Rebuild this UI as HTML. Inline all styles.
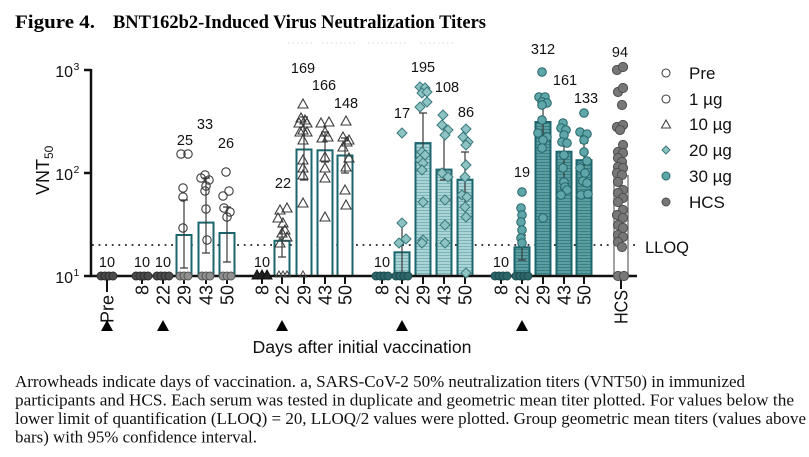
<!DOCTYPE html>
<html>
<head>
<meta charset="utf-8">
<style>
  html, body { margin:0; padding:0; background:#fff; }
  svg { display:block; }
  .sans { font-family: "Liberation Sans", Arial, sans-serif; }
  .serif { font-family: "Liberation Serif", "Times New Roman", serif; }
</style>
</head>
<body>
<svg width="809" height="457" viewBox="0 0 809 457" xmlns="http://www.w3.org/2000/svg">
  <defs>
    <pattern id="h20" width="4" height="3" patternUnits="userSpaceOnUse">
      <rect width="4" height="3" fill="#abd4d6"/>
      <rect width="4" height="1" fill="#7db4b8"/>
    </pattern>
    <pattern id="h30" width="4" height="3" patternUnits="userSpaceOnUse">
      <rect width="4" height="3" fill="#5b9fa3"/>
      <rect width="4" height="1" fill="#3b7f84"/>
    </pattern>
  </defs>
  <rect width="809" height="457" fill="#fff"/>

  <!-- Title -->
  <text class="serif" x="15" y="28" font-size="19" font-weight="bold" textLength="80" lengthAdjust="spacingAndGlyphs">Figure 4.</text>
  <text class="serif" x="113" y="28" font-size="19" font-weight="bold" textLength="373" lengthAdjust="spacingAndGlyphs">BNT162b2-Induced Virus Neutralization Titers</text>

  <!-- faint artifacts -->
  <g stroke="#e4e4e4" stroke-width="1.5" stroke-dasharray="1.5 3">
    <line x1="288" y1="43" x2="312" y2="43"/>
    <line x1="322" y1="43" x2="358" y2="43"/>
    <line x1="368" y1="43" x2="408" y2="43"/>
    <line x1="420" y1="43" x2="455" y2="43"/>
  </g>

  <!-- Y axis -->
  <g stroke="#111" stroke-width="2.5">
    <line x1="91" y1="69" x2="91" y2="277"/>
    <line x1="84" y1="70" x2="91" y2="70"/>
    <line x1="84" y1="173" x2="91" y2="173"/>
    <line x1="84" y1="276" x2="91" y2="276"/>
  </g>
  <g class="sans" fill="#111">
    <text x="73" y="77" font-size="16" text-anchor="end">10</text>
    <text x="73.5" y="70" font-size="10.5">3</text>
    <text x="73" y="180" font-size="16" text-anchor="end">10</text>
    <text x="73.5" y="173" font-size="10.5">2</text>
    <text x="73" y="283" font-size="16" text-anchor="end">10</text>
    <text x="73.5" y="276" font-size="10.5">1</text>
    <text transform="translate(49,195) rotate(-90)" font-size="18">VNT<tspan font-size="12" dy="4">50</tspan></text>
  </g>

  <!-- LLOQ dotted line -->
  <line x1="92" y1="245" x2="637" y2="245" stroke="#222" stroke-width="1.8" stroke-dasharray="1.8 4.8"/>
  <text class="sans" x="645" y="253" font-size="16.5" fill="#111">LLOQ</text>

  <!-- Bars -->
  <g stroke="#1b666e" stroke-width="2" fill="#fff">
    <rect x="176.5" y="235" width="15" height="41"/>
    <rect x="198.5" y="222.6" width="15" height="53.4"/>
    <rect x="219.5" y="233" width="15" height="43"/>
    <rect x="274.5" y="240.8" width="15" height="35.2"/>
    <rect x="296.5" y="149.5" width="15" height="126.5"/>
    <rect x="317.5" y="150.3" width="15" height="125.7"/>
    <rect x="337.5" y="155.5" width="15" height="120.5"/>
  </g>
  <g stroke="#1b666e" stroke-width="2" fill="url(#h20)">
    <rect x="394.5" y="252.3" width="15" height="23.7"/>
    <rect x="415.5" y="143.1" width="15" height="132.9"/>
    <rect x="436.5" y="169.6" width="15" height="106.4"/>
    <rect x="457.5" y="179.7" width="15" height="96.3"/>
  </g>
  <g stroke="#1b666e" stroke-width="2" fill="url(#h30)">
    <rect x="514.5" y="247.3" width="15" height="28.7"/>
    <rect x="535.5" y="122" width="15" height="154"/>
    <rect x="556.5" y="151.7" width="15" height="124.3"/>
    <rect x="576.5" y="160.2" width="15" height="115.8"/>
  </g>
  <rect x="614" y="175.8" width="14" height="100.2" fill="#fff" stroke="#8a8a8a" stroke-width="1.6"/>

  <!-- X axis -->
  <g stroke="#111" stroke-width="2.5">
    <line x1="90" y1="276" x2="637" y2="276"/>
  </g>
  <g stroke="#111" stroke-width="2">
    <line x1="107" y1="276" x2="107" y2="292"/>
    <line x1="142" y1="276" x2="142" y2="284"/>
    <line x1="163" y1="276" x2="163" y2="284"/>
    <line x1="184" y1="276" x2="184" y2="284"/>
    <line x1="206" y1="276" x2="206" y2="284"/>
    <line x1="227" y1="276" x2="227" y2="284"/>
    <line x1="262" y1="276" x2="262" y2="284"/>
    <line x1="282" y1="276" x2="282" y2="284"/>
    <line x1="304" y1="276" x2="304" y2="284"/>
    <line x1="325" y1="276" x2="325" y2="284"/>
    <line x1="345" y1="276" x2="345" y2="284"/>
    <line x1="382" y1="276" x2="382" y2="284"/>
    <line x1="402" y1="276" x2="402" y2="284"/>
    <line x1="423" y1="276" x2="423" y2="284"/>
    <line x1="444" y1="276" x2="444" y2="284"/>
    <line x1="465" y1="276" x2="465" y2="284"/>
    <line x1="501" y1="276" x2="501" y2="284"/>
    <line x1="522" y1="276" x2="522" y2="284"/>
    <line x1="543" y1="276" x2="543" y2="284"/>
    <line x1="564" y1="276" x2="564" y2="284"/>
    <line x1="584" y1="276" x2="584" y2="284"/>
    <line x1="621" y1="276" x2="621" y2="289"/>
  </g>

  <!-- X tick labels -->
  <g class="sans" font-size="18" fill="#111" text-anchor="end">
    <text transform="translate(113.5,295) rotate(-90)">Pre</text>
    <text transform="translate(148.5,285) rotate(-90)">8</text>
    <text transform="translate(169.5,285) rotate(-90)">22</text>
    <text transform="translate(190.5,285) rotate(-90)">29</text>
    <text transform="translate(212.5,285) rotate(-90)">43</text>
    <text transform="translate(233.5,285) rotate(-90)">50</text>
    <text transform="translate(268.5,285) rotate(-90)">8</text>
    <text transform="translate(288.5,285) rotate(-90)">22</text>
    <text transform="translate(310.5,285) rotate(-90)">29</text>
    <text transform="translate(331.5,285) rotate(-90)">43</text>
    <text transform="translate(351.5,285) rotate(-90)">50</text>
    <text transform="translate(388.5,285) rotate(-90)">8</text>
    <text transform="translate(408.5,285) rotate(-90)">22</text>
    <text transform="translate(429.5,285) rotate(-90)">29</text>
    <text transform="translate(450.5,285) rotate(-90)">43</text>
    <text transform="translate(471.5,285) rotate(-90)">50</text>
    <text transform="translate(507.5,285) rotate(-90)">8</text>
    <text transform="translate(528.5,285) rotate(-90)">22</text>
    <text transform="translate(549.5,285) rotate(-90)">29</text>
    <text transform="translate(570.5,285) rotate(-90)">43</text>
    <text transform="translate(590.5,285) rotate(-90)">50</text>
    <text transform="translate(627.5,290) rotate(-90)" textLength="34" lengthAdjust="spacingAndGlyphs">HCS</text>
  </g>

  <!-- Arrowheads -->
  <g fill="#000">
    <polygon points="101,331 113,331 107,320"/>
    <polygon points="157,331 169,331 163,320"/>
    <polygon points="276,331 288,331 282,320"/>
    <polygon points="396,331 408,331 402,320"/>
    <polygon points="516,331 528,331 522,320"/>
  </g>

  <text class="sans" x="362" y="353" font-size="17.5" fill="#111" text-anchor="middle" textLength="219" lengthAdjust="spacingAndGlyphs">Days after initial vaccination</text>

  <!-- Baseline blobs -->
  <g fill="#4a4a4a" stroke="#2e2e2e" stroke-width="1">
    <circle cx="101" cy="276" r="4"/><circle cx="105" cy="276" r="4"/><circle cx="109" cy="276" r="4"/><circle cx="113" cy="276" r="4"/>
    <circle cx="136" cy="276" r="4"/><circle cx="140" cy="276" r="4"/><circle cx="144" cy="276" r="4"/><circle cx="148" cy="276" r="4"/>
    <circle cx="157" cy="276" r="4"/><circle cx="161" cy="276" r="4"/><circle cx="165" cy="276" r="4"/><circle cx="169" cy="276" r="4"/>
  </g>
  <g fill="#8f8f8f" stroke="#555" stroke-width="1">
    <circle cx="180" cy="276" r="4"/><circle cx="184" cy="276" r="4"/><circle cx="188" cy="276" r="4"/>
    <circle cx="202" cy="276" r="4"/><circle cx="206" cy="276" r="4"/><circle cx="210" cy="276" r="4"/>
    <circle cx="223" cy="276" r="4"/><circle cx="227" cy="276" r="4"/><circle cx="231" cy="276" r="4"/>
  </g>
  <g fill="#222" stroke="#111" stroke-width="1">
    <path d="M257,270 L262,279 L252,279 Z"/><path d="M262,270 L267,279 L257,279 Z"/><path d="M267,270 L272,279 L262,279 Z"/>
  </g>
  <g fill="none" stroke="#444" stroke-width="1">
    <path d="M279,271 L282.5,277 L275.5,277 Z"/><path d="M283,271 L286.5,277 L279.5,277 Z"/><path d="M287,271 L290.5,277 L283.5,277 Z"/>
    <path d="M303,271 L306.5,277 L299.5,277 Z"/>
  </g>
  <g fill="#2d6568" stroke="#1a4c50" stroke-width="1">
    <circle cx="376" cy="276" r="4"/><circle cx="380" cy="276" r="4"/><circle cx="384" cy="276" r="4"/><circle cx="388" cy="276" r="4"/>
    <circle cx="396" cy="276" r="4"/><circle cx="400" cy="276" r="4"/><circle cx="404" cy="276" r="4"/><circle cx="408" cy="276" r="4"/>
    <circle cx="495" cy="276" r="4"/><circle cx="499" cy="276" r="4"/><circle cx="503" cy="276" r="4"/><circle cx="507" cy="276" r="4"/>
    <circle cx="516" cy="276" r="4"/><circle cx="520" cy="276" r="4"/><circle cx="524" cy="276" r="4"/><circle cx="528" cy="276" r="4"/>
  </g>

  <!-- Error bars -->
  <g stroke="#3a3a3a" stroke-width="1.2" fill="none">
    <path d="M184,200 V268 M180,200 H188 M180,268 H188"/>
    <path d="M206,178 V253 M202,178 H210 M202,253 H210"/>
    <path d="M227,207 V262 M223,207 H231 M223,262 H231"/>
    <path d="M282,227 V257 M278,227 H286 M278,257 H286"/>
    <path d="M304,117 V180 M300,117 H308 M300,180 H308"/>
    <path d="M325,132 V162 M321,132 H329 M321,162 H329"/>
    <path d="M345,138 V173 M341,138 H349 M341,173 H349"/>
    <path d="M402,222 V272 M398,222 H406"/>
    <path d="M423,113 V170 M419,113 H427 M419,170 H427"/>
    <path d="M444,135 V180 M440,135 H448 M440,180 H448"/>
    <path d="M465,152 V207 M461,152 H469 M461,207 H469"/>
    <path d="M522,235 V260 M518,235 H526 M518,260 H526"/>
    <path d="M543,105 V142 M539,105 H547 M539,142 H547"/>
    <path d="M564,127 V188 M560,127 H568 M560,188 H568"/>
    <path d="M584,143 V173 M580,143 H588 M580,173 H588"/>
  </g>

  <!-- 1 µg hollow circles -->
  <g fill="none" stroke="#3a3a3a" stroke-width="1.1">
    <circle cx="181" cy="154" r="4.2"/><circle cx="188" cy="154" r="4.2"/><circle cx="183" cy="188" r="4.2"/><circle cx="183" cy="197" r="4.2"/><circle cx="183" cy="228" r="4.2"/>
    <circle cx="205" cy="175" r="4.2"/><circle cx="201" cy="178" r="4.2"/><circle cx="209" cy="180" r="4.2"/><circle cx="206" cy="186" r="4.2"/><circle cx="205" cy="191" r="4.2"/><circle cx="206" cy="209" r="4.2"/><circle cx="207" cy="240" r="4.2"/>
    <circle cx="226" cy="172" r="4.2"/><circle cx="229" cy="191" r="4.2"/><circle cx="223" cy="196" r="4.2"/><circle cx="224" cy="208" r="4.2"/><circle cx="230" cy="212" r="4.2"/><circle cx="227" cy="217" r="4.2"/>
  </g>

  <!-- 10 µg triangles -->
  <g fill="none" stroke="#3a3a3a" stroke-width="1.1">
    <path d="M280,205 l5,9 h-10 z"/><path d="M287,203 l5,9 h-10 z"/><path d="M278,213 l5,9 h-10 z"/><path d="M283,218 l5,9 h-10 z"/><path d="M285,225 l5,9 h-10 z"/><path d="M282,228 l5,9 h-10 z"/><path d="M287,232 l5,9 h-10 z"/><path d="M280,238 l5,9 h-10 z"/>
    <path d="M303,99 l5,9 h-10 z"/><path d="M301,113 l5,9 h-10 z"/><path d="M305,115 l5,9 h-10 z"/><path d="M299,118 l5,9 h-10 z"/><path d="M307,118 l5,9 h-10 z"/><path d="M303,125 l5,9 h-10 z"/><path d="M300,127 l5,9 h-10 z"/><path d="M307,127 l5,9 h-10 z"/><path d="M303,135 l5,9 h-10 z"/><path d="M303,155 l5,9 h-10 z"/><path d="M303,163 l5,9 h-10 z"/><path d="M303,170 l5,9 h-10 z"/><path d="M303,198 l5,9 h-10 z"/>
    <path d="M321,118 l5,9 h-10 z"/><path d="M329,117 l5,9 h-10 z"/><path d="M325,127 l5,9 h-10 z"/><path d="M322,133 l5,9 h-10 z"/><path d="M328,132 l5,9 h-10 z"/><path d="M325,152 l5,9 h-10 z"/><path d="M325,163 l5,9 h-10 z"/><path d="M325,173 l5,9 h-10 z"/><path d="M325,212 l5,9 h-10 z"/>
    <path d="M346,116 l5,9 h-10 z"/><path d="M343,132 l5,9 h-10 z"/><path d="M349,135 l5,9 h-10 z"/><path d="M347,137 l5,9 h-10 z"/><path d="M343,142 l5,9 h-10 z"/><path d="M349,153 l5,9 h-10 z"/><path d="M346,162 l5,9 h-10 z"/><path d="M345,185 l5,9 h-10 z"/><path d="M346,200 l5,9 h-10 z"/>
  </g>

  <!-- 20 µg diamonds -->
  <g fill="#8ec3c4" stroke="#3a7a7d" stroke-width="1">
    <path d="M402,128 l5,5 l-5,5 l-5,-5 z"/><path d="M402,218 l5,5 l-5,5 l-5,-5 z"/><path d="M399,238 l5,5 l-5,5 l-5,-5 z"/><path d="M406,234 l5,5 l-5,5 l-5,-5 z"/>
    <path d="M420,82 l5,5 l-5,5 l-5,-5 z"/><path d="M425,83 l5,5 l-5,5 l-5,-5 z"/><path d="M422,88 l5,5 l-5,5 l-5,-5 z"/><path d="M427,87 l5,5 l-5,5 l-5,-5 z"/><path d="M427,97 l5,5 l-5,5 l-5,-5 z"/><path d="M420,102 l5,5 l-5,5 l-5,-5 z"/><path d="M422,147 l5,5 l-5,5 l-5,-5 z"/><path d="M425,150 l5,5 l-5,5 l-5,-5 z"/><path d="M420,155 l5,5 l-5,5 l-5,-5 z"/><path d="M423,158 l5,5 l-5,5 l-5,-5 z"/><path d="M422,165 l5,5 l-5,5 l-5,-5 z"/><path d="M423,197 l5,5 l-5,5 l-5,-5 z"/><path d="M423,235 l5,5 l-5,5 l-5,-5 z"/><path d="M422,238 l5,5 l-5,5 l-5,-5 z"/>
    <path d="M443,110 l5,5 l-5,5 l-5,-5 z"/><path d="M442,120 l5,5 l-5,5 l-5,-5 z"/><path d="M448,125 l5,5 l-5,5 l-5,-5 z"/><path d="M445,130 l5,5 l-5,5 l-5,-5 z"/><path d="M442,168 l5,5 l-5,5 l-5,-5 z"/><path d="M448,172 l5,5 l-5,5 l-5,-5 z"/><path d="M445,195 l5,5 l-5,5 l-5,-5 z"/><path d="M445,220 l5,5 l-5,5 l-5,-5 z"/><path d="M445,238 l5,5 l-5,5 l-5,-5 z"/>
    <path d="M466,124 l5,5 l-5,5 l-5,-5 z"/><path d="M463,132 l5,5 l-5,5 l-5,-5 z"/><path d="M468,137 l5,5 l-5,5 l-5,-5 z"/><path d="M466,140 l5,5 l-5,5 l-5,-5 z"/><path d="M466,160 l5,5 l-5,5 l-5,-5 z"/><path d="M465,172 l5,5 l-5,5 l-5,-5 z"/><path d="M462,190 l5,5 l-5,5 l-5,-5 z"/><path d="M467,192 l5,5 l-5,5 l-5,-5 z"/><path d="M465,202 l5,5 l-5,5 l-5,-5 z"/><path d="M466,212 l5,5 l-5,5 l-5,-5 z"/><path d="M466,268 l5,5 l-5,5 l-5,-5 z"/>
  </g>

  <!-- 30 µg circles -->
  <g fill="#5ea6a9" stroke="#256569" stroke-width="1">
    <circle cx="522" cy="192" r="4.3"/><circle cx="521" cy="208" r="4.3"/><circle cx="522" cy="215" r="4.3"/><circle cx="521" cy="222" r="4.3"/><circle cx="522" cy="230" r="4.3"/><circle cx="521" cy="238" r="4.3"/><circle cx="522" cy="243" r="4.3"/>
    <circle cx="542" cy="72" r="4.3"/><circle cx="539" cy="97" r="4.3"/><circle cx="545" cy="97" r="4.3"/><circle cx="542" cy="102" r="4.3"/><circle cx="547" cy="103" r="4.3"/><circle cx="542" cy="105" r="4.3"/><circle cx="542" cy="120" r="4.3"/><circle cx="538" cy="133" r="4.3"/><circle cx="547" cy="137" r="4.3"/><circle cx="543" cy="140" r="4.3"/><circle cx="542" cy="148" r="4.3"/><circle cx="543" cy="218" r="4.3"/>
    <circle cx="563" cy="123" r="4.3"/><circle cx="561" cy="128" r="4.3"/><circle cx="566" cy="130" r="4.3"/><circle cx="564" cy="135" r="4.3"/><circle cx="562" cy="142" r="4.3"/><circle cx="567" cy="143" r="4.3"/><circle cx="564" cy="155" r="4.3"/><circle cx="563" cy="168" r="4.3"/><circle cx="564" cy="182" r="4.3"/><circle cx="565" cy="187" r="4.3"/><circle cx="567" cy="190" r="4.3"/><circle cx="561" cy="195" r="4.3"/>
    <circle cx="584" cy="113" r="4.3"/><circle cx="580" cy="132" r="4.3"/><circle cx="587" cy="134" r="4.3"/><circle cx="584" cy="140" r="4.3"/><circle cx="584" cy="152" r="4.3"/><circle cx="587" cy="161" r="4.3"/><circle cx="580" cy="168" r="4.3"/><circle cx="585" cy="173" r="4.3"/><circle cx="583" cy="181" r="4.3"/><circle cx="587" cy="183" r="4.3"/><circle cx="581" cy="195" r="4.3"/><circle cx="588" cy="194" r="4.3"/>
  </g>

  <!-- HCS -->
  <g fill="#777" stroke="#4f4f4f" stroke-width="1">
    <circle cx="617" cy="70" r="4.6"/><circle cx="623" cy="67" r="4.6"/><circle cx="618" cy="92" r="4.6"/><circle cx="623" cy="88" r="4.6"/><circle cx="622" cy="105" r="4.6"/>
    <circle cx="617" cy="127" r="4.6"/><circle cx="623" cy="125" r="4.6"/><circle cx="620" cy="130" r="4.6"/><circle cx="623" cy="145" r="4.6"/><circle cx="618" cy="152" r="4.6"/>
    <circle cx="623" cy="153" r="4.6"/><circle cx="618" cy="158" r="4.6"/><circle cx="622" cy="162" r="4.6"/><circle cx="618" cy="167" r="4.6"/><circle cx="623" cy="168" r="4.6"/>
    <circle cx="617" cy="173" r="4.6"/><circle cx="622" cy="175" r="4.6"/><circle cx="618" cy="182" r="4.6"/><circle cx="623" cy="190" r="4.6"/><circle cx="618" cy="193" r="4.6"/>
    <circle cx="623" cy="198" r="4.6"/><circle cx="618" cy="202" r="4.6"/><circle cx="623" cy="210" r="4.6"/><circle cx="617" cy="215" r="4.6"/><circle cx="623" cy="218" r="4.6"/>
    <circle cx="618" cy="225" r="4.6"/><circle cx="623" cy="228" r="4.6"/><circle cx="618" cy="235" r="4.6"/><circle cx="623" cy="237" r="4.6"/><circle cx="618" cy="242" r="4.6"/>
    <circle cx="622" cy="247" r="4.6"/><circle cx="618" cy="276" r="4.6"/><circle cx="624" cy="276" r="4.6"/>
  </g>

  <!-- Value labels -->
  <g class="sans" font-size="14.5" fill="#111" text-anchor="middle">
    <text x="107" y="267">10</text>
    <text x="142" y="267">10</text>
    <text x="163" y="267">10</text>
    <text x="185" y="145">25</text>
    <text x="205" y="129">33</text>
    <text x="226" y="148">26</text>
    <text x="262" y="267">10</text>
    <text x="283" y="188">22</text>
    <text x="303" y="73">169</text>
    <text x="324" y="90">166</text>
    <text x="346" y="108">148</text>
    <text x="382" y="267">10</text>
    <text x="402" y="118">17</text>
    <text x="423" y="72">195</text>
    <text x="447" y="92">108</text>
    <text x="466" y="117">86</text>
    <text x="501" y="267">10</text>
    <text x="522" y="177">19</text>
    <text x="543" y="54">312</text>
    <text x="565" y="85">161</text>
    <text x="586" y="103">133</text>
    <text x="620" y="57">94</text>
  </g>

  <!-- Legend -->
  <circle cx="666" cy="73" r="4" fill="none" stroke="#444" stroke-width="1.1"/>
  <circle cx="666" cy="99" r="4" fill="none" stroke="#444" stroke-width="1.1"/>
  <path d="M666,120 l4.5,8 h-9 z" fill="none" stroke="#444" stroke-width="1.1"/>
  <path d="M666,146 l4,4 l-4,4 l-4,-4 z" fill="#8ec3c4" stroke="#3a7a7d" stroke-width="1"/>
  <circle cx="666" cy="176" r="4" fill="#5ea6a9" stroke="#256569" stroke-width="1"/>
  <circle cx="666" cy="202" r="4" fill="#777" stroke="#4f4f4f" stroke-width="1"/>
  <g class="sans" font-size="17" fill="#111">
    <text x="689" y="79">Pre</text>
    <text x="689" y="105">1 µg</text>
    <text x="689" y="130">10 µg</text>
    <text x="689" y="156">20 µg</text>
    <text x="689" y="182">30 µg</text>
    <text x="689" y="208">HCS</text>
  </g>

  <!-- Caption -->
  <g class="serif" font-size="16.5" fill="#111">
    <text x="15" y="387" textLength="730" lengthAdjust="spacingAndGlyphs">Arrowheads indicate days of vaccination. a, SARS-CoV-2 50% neutralization titers (VNT50) in immunized</text>
    <text x="15" y="405.5" textLength="779" lengthAdjust="spacingAndGlyphs">participants and HCS. Each serum was tested in duplicate and geometric mean titer plotted. For values below the</text>
    <text x="15" y="424" textLength="791" lengthAdjust="spacingAndGlyphs">lower limit of quantification (LLOQ) = 20, LLOQ/2 values were plotted. Group geometric mean titers (values above</text>
    <text x="15" y="442.5" textLength="242" lengthAdjust="spacingAndGlyphs">bars) with 95% confidence interval.</text>
  </g>
</svg>
</body>
</html>
